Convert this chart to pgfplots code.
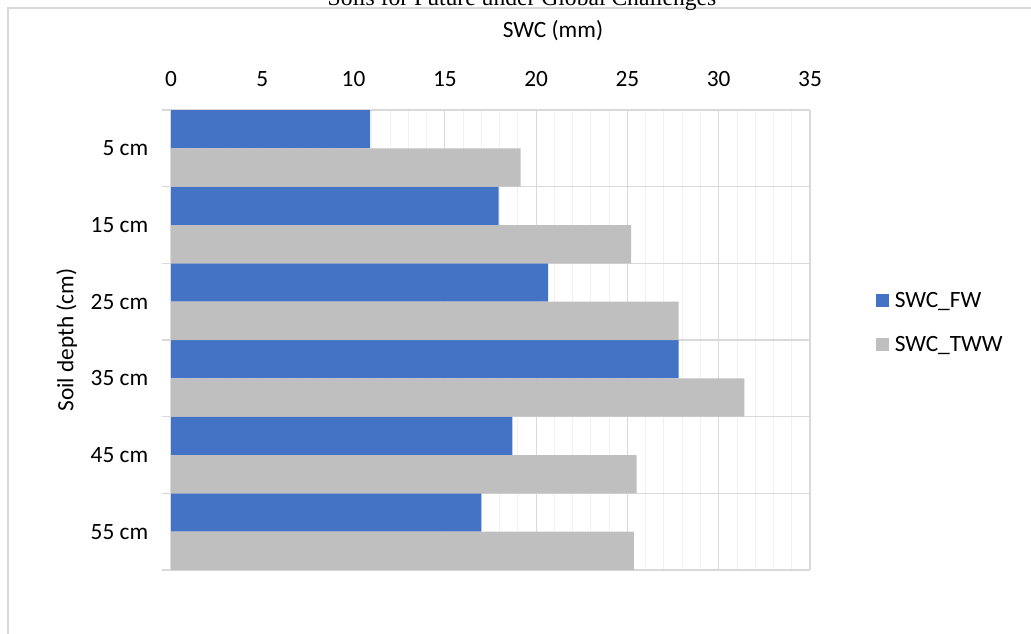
\documentclass[border=0pt]{standalone}
\usepackage{pgfplots}
\pgfplotsset{compat=1.18}
\usepackage{fontspec}
\setmainfont{Carlito}
\newfontfamily\timesfont{Liberation Serif}
\definecolor{fwblue}{HTML}{4472C4}
\definecolor{twwgray}{HTML}{BFBFBF}
\definecolor{gridmaj}{HTML}{D9D9D9}
\definecolor{gridmin}{HTML}{F0F0F0}
\begin{document}
\begin{tikzpicture}
\useasboundingbox (0,0) rectangle (773.25pt,-474.75pt);
\draw[gridmaj, line width=1.5pt] (6pt,-480pt) -- (6pt,-6pt) -- (780pt,-6pt);
\node[font=\timesfont\fontsize{17.7}{20}\selectfont, anchor=base] at (391.5pt,-4pt) {Soils for Future under Global Challenges};
\node[font=\fontsize{17.5}{20}\selectfont] at (414.75pt,-23.25pt) {SWC (mm)};
\node[font=\fontsize{17.5}{20}\selectfont, rotate=90] at (50pt,-255pt) {Soil depth (cm)};
\begin{axis}[
  at={(128.25pt,-82.5pt)}, anchor=north west,
  scale only axis, width=479.25pt, height=345pt,
  xmin=0, xmax=35, ymin=-0.5, ymax=5.5, y dir=reverse,
  xbar, bar width=0.5,
  axis line style={draw=none},
  xtick={0,5,...,35}, minor x tick num=4,
  xmajorgrids, xminorgrids,
  major x grid style={gridmaj, line width=0.9pt},
  minor x grid style={gridmin, line width=0.7pt},
  xticklabel pos=upper,
  x tick style={draw=none},
  xticklabel style={yshift=7.6pt},
  ytick={-0.5,0.5,...,5.5}, yticklabels={}, ytick pos=left,
  ymajorgrids, major y grid style={gridmaj, line width=0.9pt},
  y tick style={gridmaj, line width=0.9pt},
  major tick length=6.75pt, tick align=outside,
  extra y ticks={0,1,2,3,4,5},
  extra y tick labels={5 cm,15 cm,25 cm,35 cm,45 cm,55 cm},
  extra y tick style={grid=none, major tick length=0pt, yticklabel style={xshift=-13.6pt}},
  tick label style={font=\fontsize{17.5}{20}\selectfont},
  /pgf/number format/assume math mode=true,
  legend style={draw=none, at={(1.103,0.538)}, anchor=west, inner sep=0pt,
    font=\fontsize{17.5}{20}\selectfont, row sep=16pt,
    /tikz/every even column/.append style={column sep=0pt}},
  legend cell align=left,
  legend image code/.code={\fill[#1] (0pt,-4.875pt) rectangle (9.75pt,4.875pt); \path (12pt,0pt);},
]
\addplot[fill=fwblue, draw=none, bar shift=-0.25] coordinates {
 (10.9,0) (17.95,1) (20.65,2) (27.8,3) (18.7,4) (17.0,5)};
\addplot[fill=twwgray, draw=none, bar shift=0.25] coordinates {
 (19.15,0) (25.2,1) (27.8,2) (31.4,3) (25.5,4) (25.35,5)};
\legend{SWC\_FW, SWC\_TWW}
\end{axis}
\end{tikzpicture}
\end{document}
